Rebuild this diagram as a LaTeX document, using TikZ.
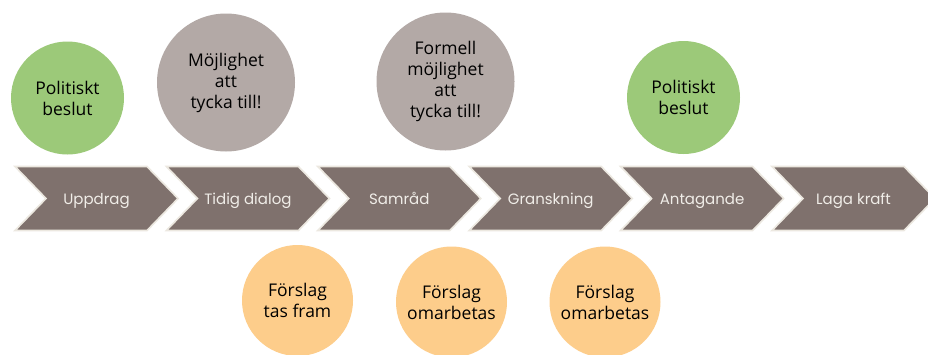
\documentclass[tikz,border=0pt]{standalone}
\usepackage{fontspec}
\setmainfont{Poppins}
\newfontfamily\handfont{Open Sans}
\definecolor{chev}{RGB}{127,113,109}
\definecolor{chevline}{RGB}{236,232,224}
\definecolor{greenc}{RGB}{156,201,121}
\definecolor{greyc}{RGB}{179,169,166}
\definecolor{orangec}{RGB}{253,205,139}
\definecolor{chevtext}{RGB}{240,237,232}
\tikzset{
  chevshape/.style={fill=chev, draw=chevline, line width=1.6pt, line join=miter},
  chevlabel/.style={text=chevtext, font=\fontsize{15}{17}\selectfont, inner sep=0pt, anchor=base},
  bubble/.style={circle, inner sep=0pt, align=center, text=black,
    font=\handfont\fontsize{17.5}{21}\selectfont},
  greenb/.style={bubble, fill=greenc, minimum size=113pt},
  greyb/.style={bubble, fill=greyc, minimum size=138pt},
  orangeb/.style={bubble, fill=orangec, minimum size=111pt}
}
\begin{document}
\begin{tikzpicture}[x=1pt,y=-1pt]
\useasboundingbox (0,0) rectangle (928,354);
\fill[white] (0,0) rectangle (928,354);
% chevrons
\foreach \i/\t/\n in {0/Uppdrag/c1,1/Tidig dialog/c2,2/Samråd/c3,3/Granskning/c4,4/Antagande/c5,5/Laga kraft/c6}{
  \pgfmathsetmacro{\xa}{15+151.4*\i}
  \draw[chevshape] (\xa,166.5) -- ++(132,0) -- ++(31,32) -- ++(-31,32) -- ++(-132,0) -- ++(31,-32) -- cycle;
  \node[chevlabel] (\n) at (\xa+81.5,204) {\t};
}
% top circles
\node[greenb] (g1) at (67.5,98) {Politiskt\\beslut};
\node[greyb] (m1) at (226,82.5) {Möjlighet\\att\\tycka till!};
\node[greyb] (m2) at (445.5,81.5) {Formell\\möjlighet\\att\\tycka till!};
\node[greenb] (g2) at (683.5,97.5) {Politiskt\\beslut};
% bottom circles
\node[orangeb] (o1) at (297.5,300.5) {Förslag\\tas fram};
\node[orangeb] (o2) at (451.5,302) {Förslag\\omarbetas};
\node[orangeb] (o3) at (605,302) {Förslag\\omarbetas};
\end{tikzpicture}
\end{document}
